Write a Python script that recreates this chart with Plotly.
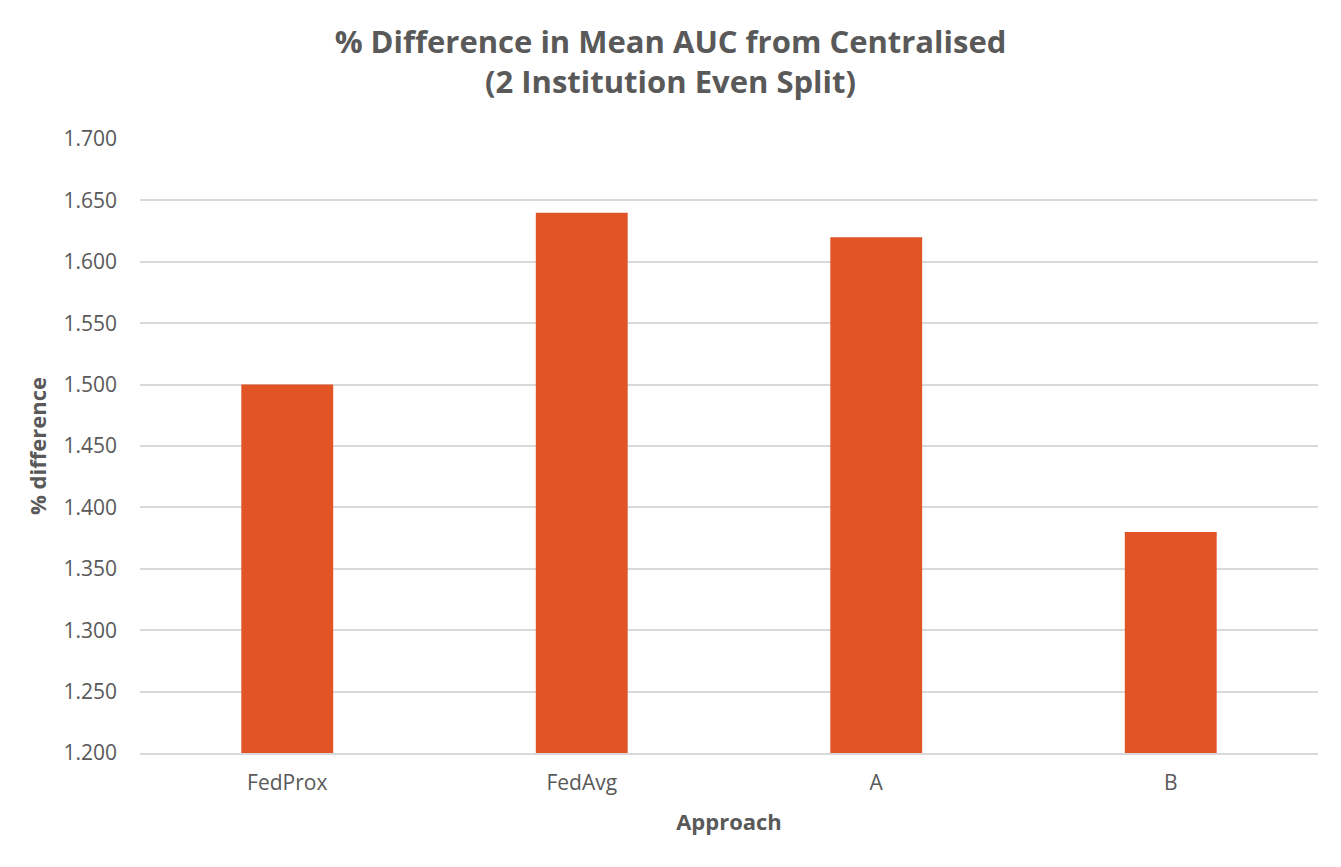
import plotly.graph_objects as go

categories = ["FedProx", "FedAvg", "A", "B"]
values = [1.500, 1.640, 1.620, 1.380]
y_ticks = [1.200, 1.250, 1.300, 1.350, 1.400, 1.450, 1.500, 1.550, 1.600, 1.650, 1.700]

fig = go.Figure(go.Bar(x=categories, y=values, marker_color="#E05426", marker_line_width=0))

fig.update_layout(
    width=1325, height=851,
    paper_bgcolor="white", plot_bgcolor="white",
    margin=dict(l=132, r=15, t=131, b=106),
    bargap=0.688,
    font=dict(family="Open Sans", color="#595959"),
    title=dict(
        text="<b>% Difference in Mean AUC from Centralised<br>(2 Institution Even Split)</b>",
        x=0.5, xanchor="center", y=0.947, yanchor="middle",
        font=dict(size=31, color="#595959", family="Open Sans"),
    ),
    showlegend=False,
)
fig.update_yaxes(
    range=[1.2, 1.7], tickvals=y_ticks, tickformat=".3f",
    showgrid=True, gridcolor="#D9D9D9", gridwidth=1.5,
    zeroline=False, showline=False, ticks="",
    tickfont=dict(size=21, color="#595959"), ticklabelstandoff=22,
    title=dict(text="<b>% difference</b>", font=dict(size=22, color="#595959"), standoff=10),
)
fig.update_xaxes(
    showline=True, linecolor="#D9D9D9", linewidth=1.5, ticks="",
    tickfont=dict(size=21, color="#595959"), ticklabelstandoff=10,
    title=dict(text="<b>Approach</b>", font=dict(size=22, color="#595959"), standoff=20),
)

fig.write_html("out.html")
